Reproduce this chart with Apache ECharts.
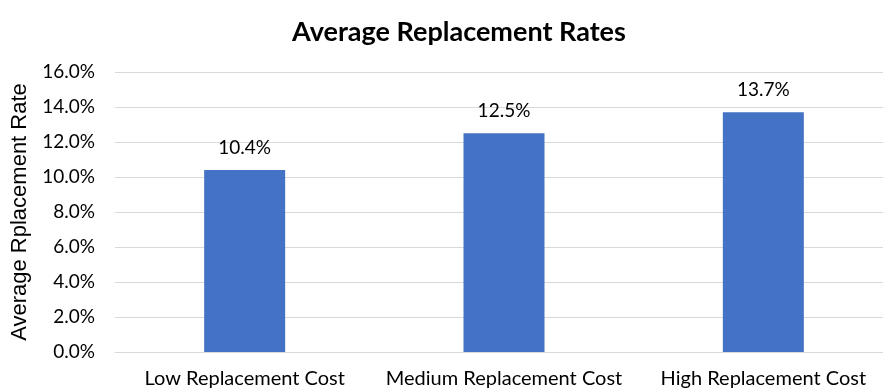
<!DOCTYPE html>
<html>
<head>
<meta charset="utf-8">
<script src="https://cdn.jsdelivr.net/npm/echarts@6/dist/echarts.min.js"></script>
<style>
  html, body { margin: 0; padding: 0; background: #ffffff; overflow: hidden; }
  #chart { width: 893px; height: 390px; }
</style>
</head>
<body>
<div id="chart"></div>
<script>
// Replacement cost groups and their average replacement rates (%)
const categories = ['Low Replacement Cost', 'Medium Replacement Cost', 'High Replacement Cost'];
const rates = [10.4, 12.5, 13.7];
const yTicks = { min: 0, max: 16, step: 2 };

const FONT = 'Lato, "Open Sans", sans-serif';

const chart = echarts.init(document.getElementById('chart'), null, { renderer: 'canvas' });
chart.setOption({
  animation: false,
  backgroundColor: '#ffffff',
  title: {
    text: 'Average Replacement Rates',
    left: 454,
    textAlign: 'center',
    top: 14,
    textStyle: { fontFamily: FONT, fontSize: 27, fontWeight: 'bold', color: '#000000' }
  },
  grid: { left: 115, top: 72, right: 0, height: 280 },
  xAxis: {
    type: 'category',
    data: categories,
    axisLine: { lineStyle: { color: '#d9d9d9', width: 1 } },
    axisTick: { show: false },
    axisLabel: { interval: 0, fontFamily: FONT, fontSize: 20, color: '#000000', margin: 17 }
  },
  yAxis: {
    type: 'value',
    min: yTicks.min,
    max: yTicks.max,
    interval: yTicks.step,
    name: 'Average Rplacement Rate',
    nameLocation: 'middle',
    nameGap: 84,
    nameTextStyle: { fontFamily: '"Liberation Sans", Arial, sans-serif', fontSize: 22, color: '#000000' },
    axisLine: { show: false },
    axisTick: { show: false },
    splitLine: { lineStyle: { color: '#d9d9d9', width: 1 } },
    axisLabel: {
      fontFamily: FONT, fontSize: 19, color: '#000000', margin: 20,
      formatter: v => v.toFixed(1) + '%'
    }
  },
  series: [{
    type: 'bar',
    data: rates,
    barWidth: 81,
    itemStyle: { color: '#4472c4' },
    label: {
      show: true,
      position: 'top',
      distance: 13,
      fontFamily: FONT,
      fontSize: 19,
      color: '#000000',
      formatter: p => p.value.toFixed(1) + '%'
    }
  }]
});
</script>
</body>
</html>
